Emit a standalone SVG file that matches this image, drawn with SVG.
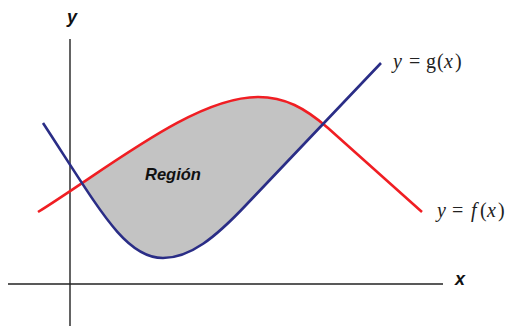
<svg xmlns="http://www.w3.org/2000/svg" width="508" height="326" viewBox="0 0 508 326">
<style>
.axis{stroke:#222;stroke-width:1.4;fill:none}
.f{stroke:#f01e23;stroke-width:2.6;fill:none;stroke-linejoin:round}
.g{stroke:#2a2d86;stroke-width:2.6;fill:none;stroke-linejoin:round}
.ax{font-family:"Liberation Sans",Arial,sans-serif;font-weight:bold;font-style:italic;font-size:18px;fill:#111}
.eq{font-family:"Liberation Serif","Times New Roman",serif;font-size:20px;fill:#222}
.it{font-style:italic}
.lbl{font-family:"Liberation Sans",Arial,sans-serif;font-weight:bold;font-style:italic;font-size:16.5px;fill:#111}
</style>
<defs>
<clipPath id="aboveG">
<path d="M43,123 C100,210 125,258 163,258 C190,258 215,238 247,204 L381,63 L381,0 L43,0 Z"/>
</clipPath>
</defs>
<g id="axes">
<line class="axis" x1="70" y1="39" x2="70" y2="326"/>
<line class="axis" x1="8" y1="284" x2="443" y2="284"/>
<text class="ax" x="67" y="23">y</text>
<text class="ax" x="455" y="285">x</text>
</g>
<g id="region">
<path d="M38,212 C110,167 195,97 258,97 C285,97 305,108 328,128 L422,212 L422,326 L38,326 Z" fill="#c3c3c3" clip-path="url(#aboveG)"/>
<text class="lbl" x="145" y="180">Región</text>
</g>
<g id="connectors">
<path id="curve-f" class="f" d="M38,212 C110,167 195,97 258,97 C285,97 305,108 328,128 L422,212"/>
<path id="curve-g" class="g" d="M43,123 C100,210 125,258 163,258 C190,258 215,238 247,204 L381,63"/>
</g>
<g id="label-g">
<text class="eq" y="68"><tspan class="it" x="393">y</tspan><tspan x="409">=</tspan><tspan x="426">g</tspan><tspan x="437">(</tspan><tspan class="it" x="444">x</tspan><tspan x="455">)</tspan></text>
</g>
<g id="label-f">
<text class="eq" y="217"><tspan class="it" x="437">y</tspan><tspan x="452">=</tspan><tspan class="it" x="471">f</tspan><tspan x="480">(</tspan><tspan class="it" x="487">x</tspan><tspan x="498">)</tspan></text>
</g>
</svg>
